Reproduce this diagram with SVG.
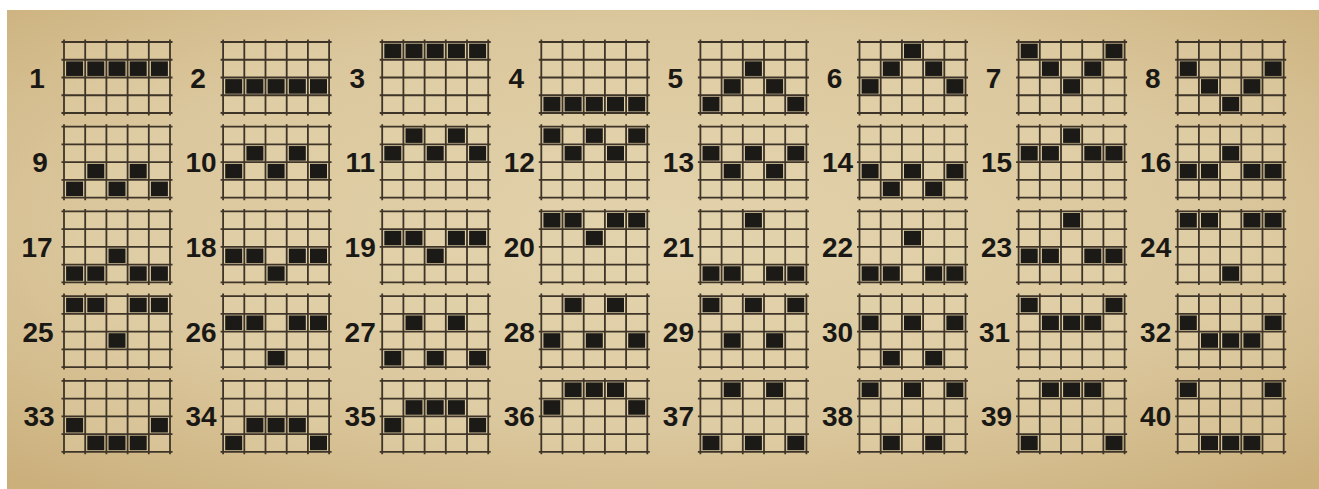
<svg xmlns="http://www.w3.org/2000/svg" xmlns:xlink="http://www.w3.org/1999/xlink" width="1319" height="489" viewBox="0 0 1319 489">
<style>
.bg{fill:url(#paper)}
.gl{fill:none;stroke:#3e3528;stroke-width:1.8}
.gb{fill:#e6d7b2;fill-opacity:0.35}
.on{fill:#1b1a17}
.lb{font-family:"Liberation Sans",Arial,sans-serif;font-weight:bold;font-size:28px;fill:#1a1814;text-anchor:middle}
</style>
<defs>
<radialGradient id="paper" cx="50%" cy="45%" r="72%">
<stop offset="0" stop-color="#e2d2ab"/>
<stop offset="0.6" stop-color="#dbc79d"/>
<stop offset="1" stop-color="#cbb07c"/>
</radialGradient>
<g id="grid">
<rect class="gb" x="0" y="0" width="106" height="71"/>
<path class="gl" d="M0 -2.5V73.5M21.2 -2.5V73.5M42.4 -2.5V73.5M63.6 -2.5V73.5M84.8 -2.5V73.5M106 -2.5V73.5M-2.5 0H108.5M-2.5 17.75H108.5M-2.5 35.5H108.5M-2.5 53.25H108.5M-2.5 71H108.5"/>
</g>
<rect id="c" class="on" x="-1" y="-0.8" width="17" height="14.6"/>
</defs>
<rect x="0" y="0" width="1319" height="489" fill="#ffffff"/>
<rect class="bg" x="7" y="10" width="1312" height="479"/>
<g id="line-1" transform="translate(64,42)"><use xlink:href="#grid"/><use xlink:href="#c" x="3.1" y="20.15"/><use xlink:href="#c" x="24.3" y="20.15"/><use xlink:href="#c" x="45.5" y="20.15"/><use xlink:href="#c" x="66.7" y="20.15"/><use xlink:href="#c" x="87.9" y="20.15"/><text class="lb" x="-27" y="45.5">1</text></g>
<g id="line-2" transform="translate(223.1,42)"><use xlink:href="#grid"/><use xlink:href="#c" x="3.1" y="37.9"/><use xlink:href="#c" x="24.3" y="37.9"/><use xlink:href="#c" x="45.5" y="37.9"/><use xlink:href="#c" x="66.7" y="37.9"/><use xlink:href="#c" x="87.9" y="37.9"/><text class="lb" x="-25" y="45.5">2</text></g>
<g id="line-3" transform="translate(382.2,42)"><use xlink:href="#grid"/><use xlink:href="#c" x="3.1" y="2.4"/><use xlink:href="#c" x="24.3" y="2.4"/><use xlink:href="#c" x="45.5" y="2.4"/><use xlink:href="#c" x="66.7" y="2.4"/><use xlink:href="#c" x="87.9" y="2.4"/><text class="lb" x="-25" y="45.5">3</text></g>
<g id="line-4" transform="translate(541.3,42)"><use xlink:href="#grid"/><use xlink:href="#c" x="3.1" y="55.65"/><use xlink:href="#c" x="24.3" y="55.65"/><use xlink:href="#c" x="45.5" y="55.65"/><use xlink:href="#c" x="66.7" y="55.65"/><use xlink:href="#c" x="87.9" y="55.65"/><text class="lb" x="-25" y="45.5">4</text></g>
<g id="line-5" transform="translate(700.4,42)"><use xlink:href="#grid"/><use xlink:href="#c" x="3.1" y="55.65"/><use xlink:href="#c" x="24.3" y="37.9"/><use xlink:href="#c" x="45.5" y="20.15"/><use xlink:href="#c" x="66.7" y="37.9"/><use xlink:href="#c" x="87.9" y="55.65"/><text class="lb" x="-25" y="45.5">5</text></g>
<g id="line-6" transform="translate(859.5,42)"><use xlink:href="#grid"/><use xlink:href="#c" x="3.1" y="37.9"/><use xlink:href="#c" x="24.3" y="20.15"/><use xlink:href="#c" x="45.5" y="2.4"/><use xlink:href="#c" x="66.7" y="20.15"/><use xlink:href="#c" x="87.9" y="37.9"/><text class="lb" x="-25" y="45.5">6</text></g>
<g id="line-7" transform="translate(1018.6,42)"><use xlink:href="#grid"/><use xlink:href="#c" x="3.1" y="2.4"/><use xlink:href="#c" x="24.3" y="20.15"/><use xlink:href="#c" x="45.5" y="37.9"/><use xlink:href="#c" x="66.7" y="20.15"/><use xlink:href="#c" x="87.9" y="2.4"/><text class="lb" x="-25" y="45.5">7</text></g>
<g id="line-8" transform="translate(1177.7,42)"><use xlink:href="#grid"/><use xlink:href="#c" x="3.1" y="20.15"/><use xlink:href="#c" x="24.3" y="37.9"/><use xlink:href="#c" x="45.5" y="55.65"/><use xlink:href="#c" x="66.7" y="37.9"/><use xlink:href="#c" x="87.9" y="20.15"/><text class="lb" x="-25" y="45.5">8</text></g>
<g id="line-9" transform="translate(64,126.7)"><use xlink:href="#grid"/><use xlink:href="#c" x="3.1" y="55.65"/><use xlink:href="#c" x="24.3" y="37.9"/><use xlink:href="#c" x="45.5" y="55.65"/><use xlink:href="#c" x="66.7" y="37.9"/><use xlink:href="#c" x="87.9" y="55.65"/><text class="lb" x="-24" y="45.5">9</text></g>
<g id="line-10" transform="translate(223.1,126.7)"><use xlink:href="#grid"/><use xlink:href="#c" x="3.1" y="37.9"/><use xlink:href="#c" x="24.3" y="20.15"/><use xlink:href="#c" x="45.5" y="37.9"/><use xlink:href="#c" x="66.7" y="20.15"/><use xlink:href="#c" x="87.9" y="37.9"/><text class="lb" x="-22" y="45.5">10</text></g>
<g id="line-11" transform="translate(382.2,126.7)"><use xlink:href="#grid"/><use xlink:href="#c" x="3.1" y="20.15"/><use xlink:href="#c" x="24.3" y="2.4"/><use xlink:href="#c" x="45.5" y="20.15"/><use xlink:href="#c" x="66.7" y="2.4"/><use xlink:href="#c" x="87.9" y="20.15"/><text class="lb" x="-22" y="45.5">11</text></g>
<g id="line-12" transform="translate(541.3,126.7)"><use xlink:href="#grid"/><use xlink:href="#c" x="3.1" y="2.4"/><use xlink:href="#c" x="24.3" y="20.15"/><use xlink:href="#c" x="45.5" y="2.4"/><use xlink:href="#c" x="66.7" y="20.15"/><use xlink:href="#c" x="87.9" y="2.4"/><text class="lb" x="-22" y="45.5">12</text></g>
<g id="line-13" transform="translate(700.4,126.7)"><use xlink:href="#grid"/><use xlink:href="#c" x="3.1" y="20.15"/><use xlink:href="#c" x="24.3" y="37.9"/><use xlink:href="#c" x="45.5" y="20.15"/><use xlink:href="#c" x="66.7" y="37.9"/><use xlink:href="#c" x="87.9" y="20.15"/><text class="lb" x="-22" y="45.5">13</text></g>
<g id="line-14" transform="translate(859.5,126.7)"><use xlink:href="#grid"/><use xlink:href="#c" x="3.1" y="37.9"/><use xlink:href="#c" x="24.3" y="55.65"/><use xlink:href="#c" x="45.5" y="37.9"/><use xlink:href="#c" x="66.7" y="55.65"/><use xlink:href="#c" x="87.9" y="37.9"/><text class="lb" x="-22" y="45.5">14</text></g>
<g id="line-15" transform="translate(1018.6,126.7)"><use xlink:href="#grid"/><use xlink:href="#c" x="3.1" y="20.15"/><use xlink:href="#c" x="24.3" y="20.15"/><use xlink:href="#c" x="45.5" y="2.4"/><use xlink:href="#c" x="66.7" y="20.15"/><use xlink:href="#c" x="87.9" y="20.15"/><text class="lb" x="-22" y="45.5">15</text></g>
<g id="line-16" transform="translate(1177.7,126.7)"><use xlink:href="#grid"/><use xlink:href="#c" x="3.1" y="37.9"/><use xlink:href="#c" x="24.3" y="37.9"/><use xlink:href="#c" x="45.5" y="20.15"/><use xlink:href="#c" x="66.7" y="37.9"/><use xlink:href="#c" x="87.9" y="37.9"/><text class="lb" x="-22" y="45.5">16</text></g>
<g id="line-17" transform="translate(64,211.4)"><use xlink:href="#grid"/><use xlink:href="#c" x="3.1" y="55.65"/><use xlink:href="#c" x="24.3" y="55.65"/><use xlink:href="#c" x="45.5" y="37.9"/><use xlink:href="#c" x="66.7" y="55.65"/><use xlink:href="#c" x="87.9" y="55.65"/><text class="lb" x="-27" y="45.5">17</text></g>
<g id="line-18" transform="translate(223.1,211.4)"><use xlink:href="#grid"/><use xlink:href="#c" x="3.1" y="37.9"/><use xlink:href="#c" x="24.3" y="37.9"/><use xlink:href="#c" x="45.5" y="55.65"/><use xlink:href="#c" x="66.7" y="37.9"/><use xlink:href="#c" x="87.9" y="37.9"/><text class="lb" x="-22" y="45.5">18</text></g>
<g id="line-19" transform="translate(382.2,211.4)"><use xlink:href="#grid"/><use xlink:href="#c" x="3.1" y="20.15"/><use xlink:href="#c" x="24.3" y="20.15"/><use xlink:href="#c" x="45.5" y="37.9"/><use xlink:href="#c" x="66.7" y="20.15"/><use xlink:href="#c" x="87.9" y="20.15"/><text class="lb" x="-22" y="45.5">19</text></g>
<g id="line-20" transform="translate(541.3,211.4)"><use xlink:href="#grid"/><use xlink:href="#c" x="3.1" y="2.4"/><use xlink:href="#c" x="24.3" y="2.4"/><use xlink:href="#c" x="45.5" y="20.15"/><use xlink:href="#c" x="66.7" y="2.4"/><use xlink:href="#c" x="87.9" y="2.4"/><text class="lb" x="-22" y="45.5">20</text></g>
<g id="line-21" transform="translate(700.4,211.4)"><use xlink:href="#grid"/><use xlink:href="#c" x="3.1" y="55.65"/><use xlink:href="#c" x="24.3" y="55.65"/><use xlink:href="#c" x="45.5" y="2.4"/><use xlink:href="#c" x="66.7" y="55.65"/><use xlink:href="#c" x="87.9" y="55.65"/><text class="lb" x="-22" y="45.5">21</text></g>
<g id="line-22" transform="translate(859.5,211.4)"><use xlink:href="#grid"/><use xlink:href="#c" x="3.1" y="55.65"/><use xlink:href="#c" x="24.3" y="55.65"/><use xlink:href="#c" x="45.5" y="20.15"/><use xlink:href="#c" x="66.7" y="55.65"/><use xlink:href="#c" x="87.9" y="55.65"/><text class="lb" x="-22" y="45.5">22</text></g>
<g id="line-23" transform="translate(1018.6,211.4)"><use xlink:href="#grid"/><use xlink:href="#c" x="3.1" y="37.9"/><use xlink:href="#c" x="24.3" y="37.9"/><use xlink:href="#c" x="45.5" y="2.4"/><use xlink:href="#c" x="66.7" y="37.9"/><use xlink:href="#c" x="87.9" y="37.9"/><text class="lb" x="-22" y="45.5">23</text></g>
<g id="line-24" transform="translate(1177.7,211.4)"><use xlink:href="#grid"/><use xlink:href="#c" x="3.1" y="2.4"/><use xlink:href="#c" x="24.3" y="2.4"/><use xlink:href="#c" x="45.5" y="55.65"/><use xlink:href="#c" x="66.7" y="2.4"/><use xlink:href="#c" x="87.9" y="2.4"/><text class="lb" x="-22" y="45.5">24</text></g>
<g id="line-25" transform="translate(64,296.1)"><use xlink:href="#grid"/><use xlink:href="#c" x="3.1" y="2.4"/><use xlink:href="#c" x="24.3" y="2.4"/><use xlink:href="#c" x="45.5" y="37.9"/><use xlink:href="#c" x="66.7" y="2.4"/><use xlink:href="#c" x="87.9" y="2.4"/><text class="lb" x="-26" y="45.5">25</text></g>
<g id="line-26" transform="translate(223.1,296.1)"><use xlink:href="#grid"/><use xlink:href="#c" x="3.1" y="20.15"/><use xlink:href="#c" x="24.3" y="20.15"/><use xlink:href="#c" x="45.5" y="55.65"/><use xlink:href="#c" x="66.7" y="20.15"/><use xlink:href="#c" x="87.9" y="20.15"/><text class="lb" x="-22" y="45.5">26</text></g>
<g id="line-27" transform="translate(382.2,296.1)"><use xlink:href="#grid"/><use xlink:href="#c" x="3.1" y="55.65"/><use xlink:href="#c" x="24.3" y="20.15"/><use xlink:href="#c" x="45.5" y="55.65"/><use xlink:href="#c" x="66.7" y="20.15"/><use xlink:href="#c" x="87.9" y="55.65"/><text class="lb" x="-22" y="45.5">27</text></g>
<g id="line-28" transform="translate(541.3,296.1)"><use xlink:href="#grid"/><use xlink:href="#c" x="3.1" y="37.9"/><use xlink:href="#c" x="24.3" y="2.4"/><use xlink:href="#c" x="45.5" y="37.9"/><use xlink:href="#c" x="66.7" y="2.4"/><use xlink:href="#c" x="87.9" y="37.9"/><text class="lb" x="-22" y="45.5">28</text></g>
<g id="line-29" transform="translate(700.4,296.1)"><use xlink:href="#grid"/><use xlink:href="#c" x="3.1" y="2.4"/><use xlink:href="#c" x="24.3" y="37.9"/><use xlink:href="#c" x="45.5" y="2.4"/><use xlink:href="#c" x="66.7" y="37.9"/><use xlink:href="#c" x="87.9" y="2.4"/><text class="lb" x="-22" y="45.5">29</text></g>
<g id="line-30" transform="translate(859.5,296.1)"><use xlink:href="#grid"/><use xlink:href="#c" x="3.1" y="20.15"/><use xlink:href="#c" x="24.3" y="55.65"/><use xlink:href="#c" x="45.5" y="20.15"/><use xlink:href="#c" x="66.7" y="55.65"/><use xlink:href="#c" x="87.9" y="20.15"/><text class="lb" x="-22" y="45.5">30</text></g>
<g id="line-31" transform="translate(1018.6,296.1)"><use xlink:href="#grid"/><use xlink:href="#c" x="3.1" y="2.4"/><use xlink:href="#c" x="24.3" y="20.15"/><use xlink:href="#c" x="45.5" y="20.15"/><use xlink:href="#c" x="66.7" y="20.15"/><use xlink:href="#c" x="87.9" y="2.4"/><text class="lb" x="-24" y="45.5">31</text></g>
<g id="line-32" transform="translate(1177.7,296.1)"><use xlink:href="#grid"/><use xlink:href="#c" x="3.1" y="20.15"/><use xlink:href="#c" x="24.3" y="37.9"/><use xlink:href="#c" x="45.5" y="37.9"/><use xlink:href="#c" x="66.7" y="37.9"/><use xlink:href="#c" x="87.9" y="20.15"/><text class="lb" x="-22" y="45.5">32</text></g>
<g id="line-33" transform="translate(64,380.8)"><use xlink:href="#grid"/><use xlink:href="#c" x="3.1" y="37.9"/><use xlink:href="#c" x="24.3" y="55.65"/><use xlink:href="#c" x="45.5" y="55.65"/><use xlink:href="#c" x="66.7" y="55.65"/><use xlink:href="#c" x="87.9" y="37.9"/><text class="lb" x="-25" y="45.5">33</text></g>
<g id="line-34" transform="translate(223.1,380.8)"><use xlink:href="#grid"/><use xlink:href="#c" x="3.1" y="55.65"/><use xlink:href="#c" x="24.3" y="37.9"/><use xlink:href="#c" x="45.5" y="37.9"/><use xlink:href="#c" x="66.7" y="37.9"/><use xlink:href="#c" x="87.9" y="55.65"/><text class="lb" x="-22" y="45.5">34</text></g>
<g id="line-35" transform="translate(382.2,380.8)"><use xlink:href="#grid"/><use xlink:href="#c" x="3.1" y="37.9"/><use xlink:href="#c" x="24.3" y="20.15"/><use xlink:href="#c" x="45.5" y="20.15"/><use xlink:href="#c" x="66.7" y="20.15"/><use xlink:href="#c" x="87.9" y="37.9"/><text class="lb" x="-22" y="45.5">35</text></g>
<g id="line-36" transform="translate(541.3,380.8)"><use xlink:href="#grid"/><use xlink:href="#c" x="3.1" y="20.15"/><use xlink:href="#c" x="24.3" y="2.4"/><use xlink:href="#c" x="45.5" y="2.4"/><use xlink:href="#c" x="66.7" y="2.4"/><use xlink:href="#c" x="87.9" y="20.15"/><text class="lb" x="-22" y="45.5">36</text></g>
<g id="line-37" transform="translate(700.4,380.8)"><use xlink:href="#grid"/><use xlink:href="#c" x="3.1" y="55.65"/><use xlink:href="#c" x="24.3" y="2.4"/><use xlink:href="#c" x="45.5" y="55.65"/><use xlink:href="#c" x="66.7" y="2.4"/><use xlink:href="#c" x="87.9" y="55.65"/><text class="lb" x="-22" y="45.5">37</text></g>
<g id="line-38" transform="translate(859.5,380.8)"><use xlink:href="#grid"/><use xlink:href="#c" x="3.1" y="2.4"/><use xlink:href="#c" x="24.3" y="55.65"/><use xlink:href="#c" x="45.5" y="2.4"/><use xlink:href="#c" x="66.7" y="55.65"/><use xlink:href="#c" x="87.9" y="2.4"/><text class="lb" x="-22" y="45.5">38</text></g>
<g id="line-39" transform="translate(1018.6,380.8)"><use xlink:href="#grid"/><use xlink:href="#c" x="3.1" y="55.65"/><use xlink:href="#c" x="24.3" y="2.4"/><use xlink:href="#c" x="45.5" y="2.4"/><use xlink:href="#c" x="66.7" y="2.4"/><use xlink:href="#c" x="87.9" y="55.65"/><text class="lb" x="-22" y="45.5">39</text></g>
<g id="line-40" transform="translate(1177.7,380.8)"><use xlink:href="#grid"/><use xlink:href="#c" x="3.1" y="2.4"/><use xlink:href="#c" x="24.3" y="55.65"/><use xlink:href="#c" x="45.5" y="55.65"/><use xlink:href="#c" x="66.7" y="55.65"/><use xlink:href="#c" x="87.9" y="2.4"/><text class="lb" x="-22" y="45.5">40</text></g>
</svg>
